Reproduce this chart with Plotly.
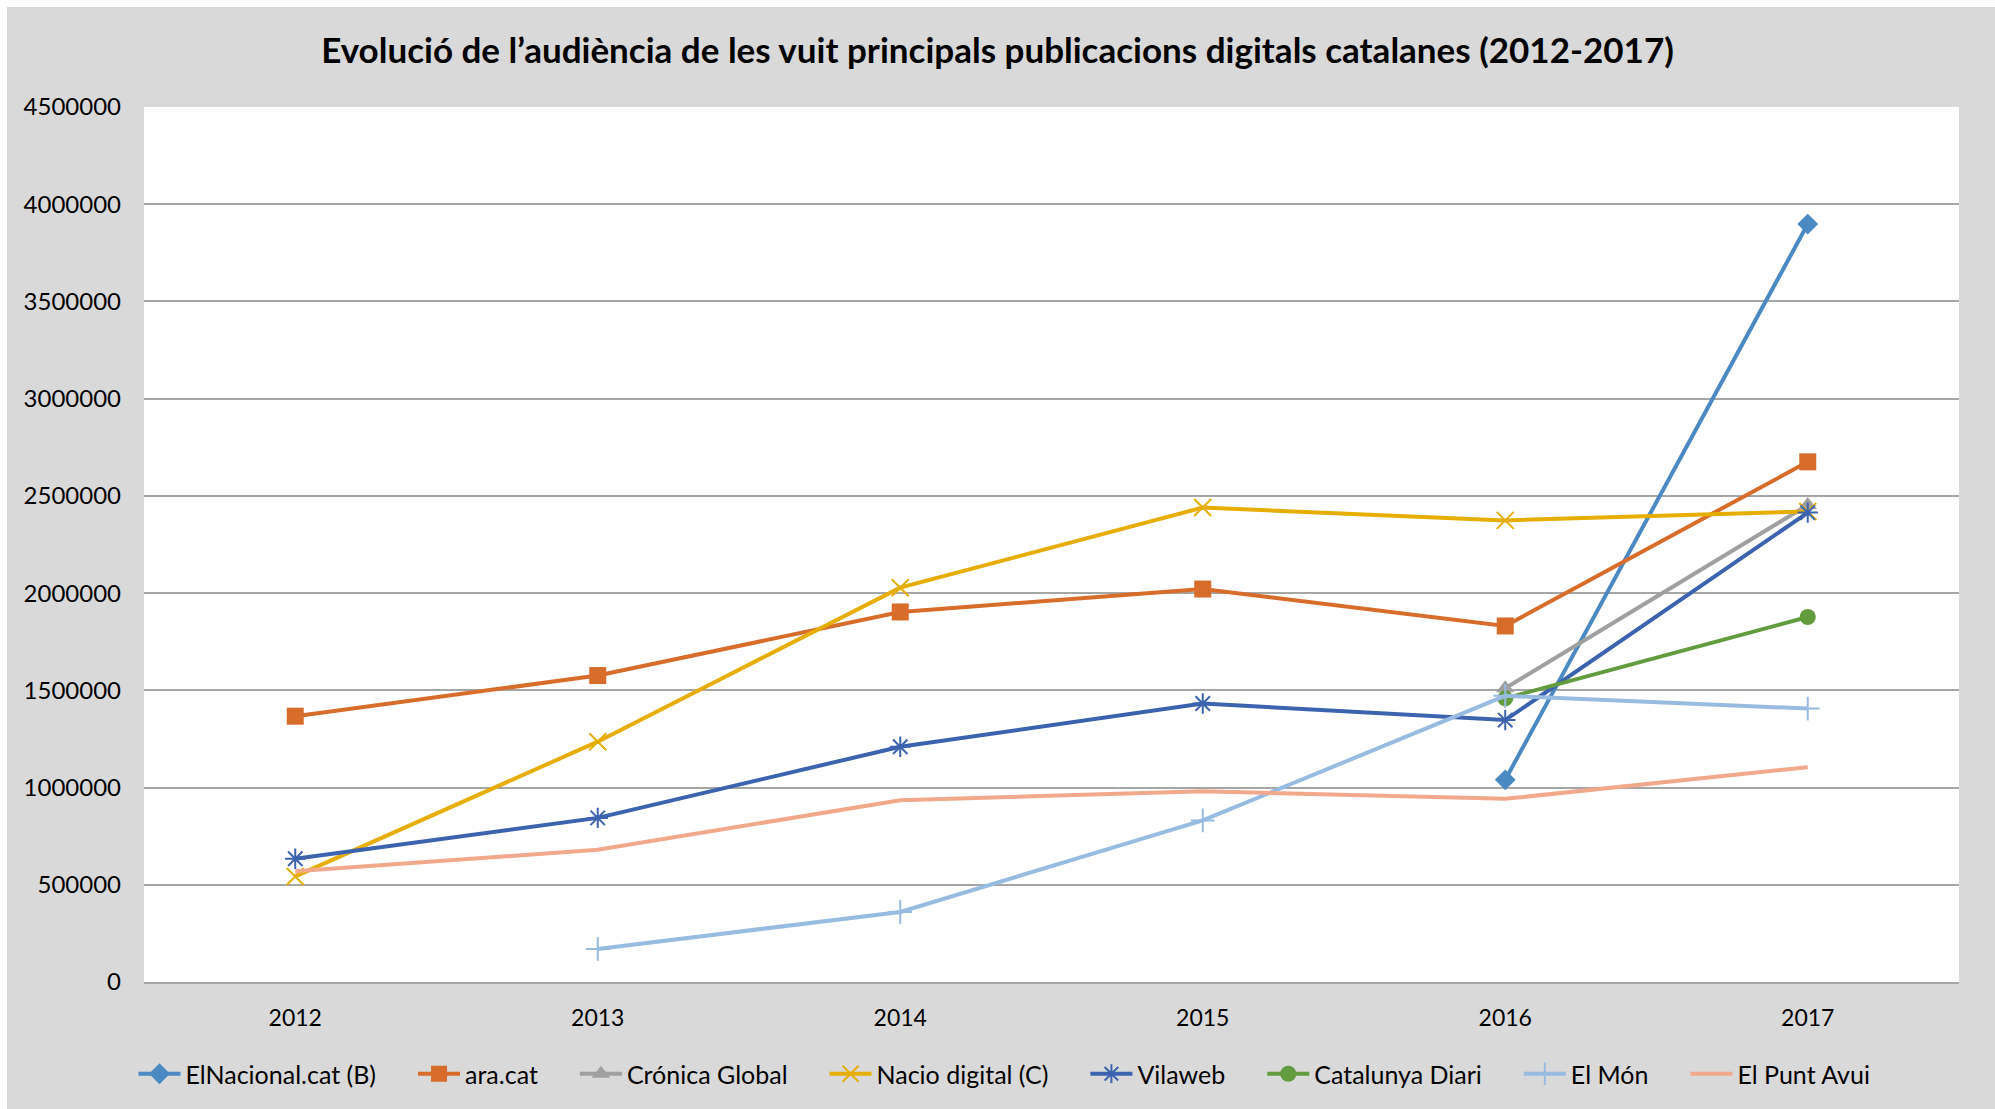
import plotly.graph_objects as go

years = ["2012", "2013", "2014", "2015", "2016", "2017"]

elnacional = [None, None, None, None, 1040000, 3898000]
ara = [1367000, 1576000, 1903000, 2021000, 1831000, 2675000]
cronica = [None, None, None, None, 1511000, 2453000]
nacio = [543000, 1236000, 2028000, 2440000, 2374000, 2420000]
vilaweb = [634000, 844000, 1210000, 1432000, 1347000, 2414000]
catdiari = [None, None, None, None, 1459000, 1877000]
elmon = [None, 170000, 360000, 831000, 1472000, 1406000]
elpunt = [569000, 680000, 935000, 981000, 942000, 1105000]

y_ticks = [0, 500000, 1000000, 1500000, 2000000, 2500000, 3000000, 3500000, 4000000, 4500000]

series = [
    ("ElNacional.cat (B)", elnacional, "#4A89C1", "diamond", 16, 0),
    ("ara.cat", ara, "#D86C2B", "square", 17, 0),
    ("Crónica Global", cronica, "#A0A0A0", "triangle-up", 16, 0),
    ("Nacio digital (C)", nacio, "#E6AE05", "x-thin", 17, 2),
    ("Vilaweb", vilaweb, "#3C63AE", "asterisk", 17, 2),
    ("Catalunya Diari", catdiari, "#639C3E", "circle", 16, 0),
    ("El Món", elmon, "#98BBE2", "cross-thin", 17, 2),
    ("El Punt Avui", elpunt, "#F2A88B", None, 0, 0),
]

PAD = "\u00a0" * 5

fig = go.Figure()
for name, vals, col, sym, size, lw in series:
    if sym is None:
        mode = "lines"
        marker = None
    else:
        mode = "lines+markers"
        marker = dict(symbol=sym, size=size, color=col, line=dict(color=col, width=lw))
    fig.add_trace(go.Scatter(
        x=years, y=vals, name=name + PAD, mode=mode,
        line=dict(color=col, width=4),
        marker=marker, connectgaps=False,
    ))

W, H = 1995, 1109
L, R, T, B = 144, 36, 107, 127
pw, ph = W - L - R, H - T - B
BORDER = 7

fig.update_layout(
    width=W, height=H,
    margin=dict(l=L, r=R, t=T, b=B, autoexpand=False),
    paper_bgcolor="#D9D9D9",
    plot_bgcolor="#FFFFFF",
    font=dict(family="Lato, Open Sans, sans-serif", color="#000000", size=23),
    title=dict(
        text="<b>Evolució de l’audiència de les vuit principals publicacions digitals catalanes (2012-2017)</b>",
        x=0.5, xanchor="center", y=1 - 51 / H, yanchor="middle",
        font=dict(size=35, color="#000000", family="Lato, sans-serif"),
    ),
    xaxis=dict(
        type="category", range=[-0.5, 5.5],
        showgrid=False, showline=True, linecolor="#A6A6A6", linewidth=1.5,
        ticks="", ticklabelstandoff=15, zeroline=False,
        tickfont=dict(size=23),
    ),
    yaxis=dict(
        range=[0, 4500000], tickvals=y_ticks, ticktext=[str(v) for v in y_ticks],
        showgrid=True, gridcolor="#A6A6A6", gridwidth=1.5,
        showline=False, zeroline=False, ticks="", ticklabelstandoff=22,
        tickfont=dict(size=24),
    ),
    legend=dict(
        orientation="h", x=0.5 - 31 / pw, xanchor="center", y=-(1074 - 982) / ph, yanchor="middle",
        font=dict(size=25), bgcolor="rgba(0,0,0,0)", itemwidth=42,
        tracegroupgap=0,
    ),
    shapes=[
        dict(type="rect", xref="paper", yref="paper", layer="above",
             x0=-L / pw, x1=(W - L) / pw, y0=(ph + T - BORDER) / ph, y1=(ph + T) / ph,
             line=dict(width=0), fillcolor="#FFFFFF"),
        dict(type="rect", xref="paper", yref="paper", layer="above",
             x0=-L / pw, x1=(-L + BORDER) / pw, y0=-B / ph, y1=(ph + T) / ph,
             line=dict(width=0), fillcolor="#FFFFFF"),
    ],
    showlegend=True,
)

fig.write_html(
    "out.html",
    config={"displayModeBar": False},
    post_script="document.body.style.margin='0';document.body.style.padding='0';",
)
